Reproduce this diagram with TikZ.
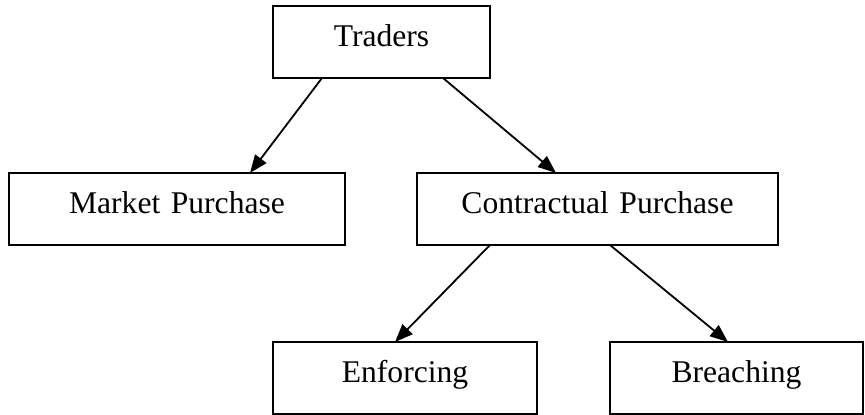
\documentclass[tikz,border=0pt]{standalone}
\usepackage{fontspec}
\setmainfont{Liberation Serif}
\usetikzlibrary{arrows.meta}
\begin{document}
\begin{tikzpicture}[x=1pt,y=-1pt,
  box/.style={draw, line width=1.8pt, anchor=north west, inner sep=0pt, outer sep=0pt,
    text height=40pt, text depth=32pt, align=center,
    font=\fontsize{31.6}{38}\selectfont},
  arr/.style={line width=1.8pt, -{Triangle[length=18pt,width=14pt]}}]
\useasboundingbox (0,0) rectangle (865,415);
\node[box, minimum width=217pt, text width=217pt] (trad) at (273,6) {Traders};
\node[box, minimum width=336pt, text width=336pt] (mkt) at (9,173) {Market Purchase};
\node[box, minimum width=361pt, text width=361pt] (con) at (417,173) {Contractual Purchase};
\node[box, minimum width=264pt, text width=264pt] (enf) at (273,342) {Enforcing};
\node[box, minimum width=253pt, text width=253pt] (bre) at (610,342) {Breaching};
\draw[arr] ([xshift=-59.5pt]trad.south) -- ([xshift=73pt]mkt.north);
\draw[arr] ([xshift=61.5pt]trad.south) -- ([xshift=-41.5pt]con.north);
\draw[arr] ([xshift=-107.5pt]con.south) -- ([xshift=-10pt]enf.north);
\draw[arr] ([xshift=12.5pt]con.south) -- ([xshift=-8.5pt]bre.north);
\end{tikzpicture}
\end{document}
